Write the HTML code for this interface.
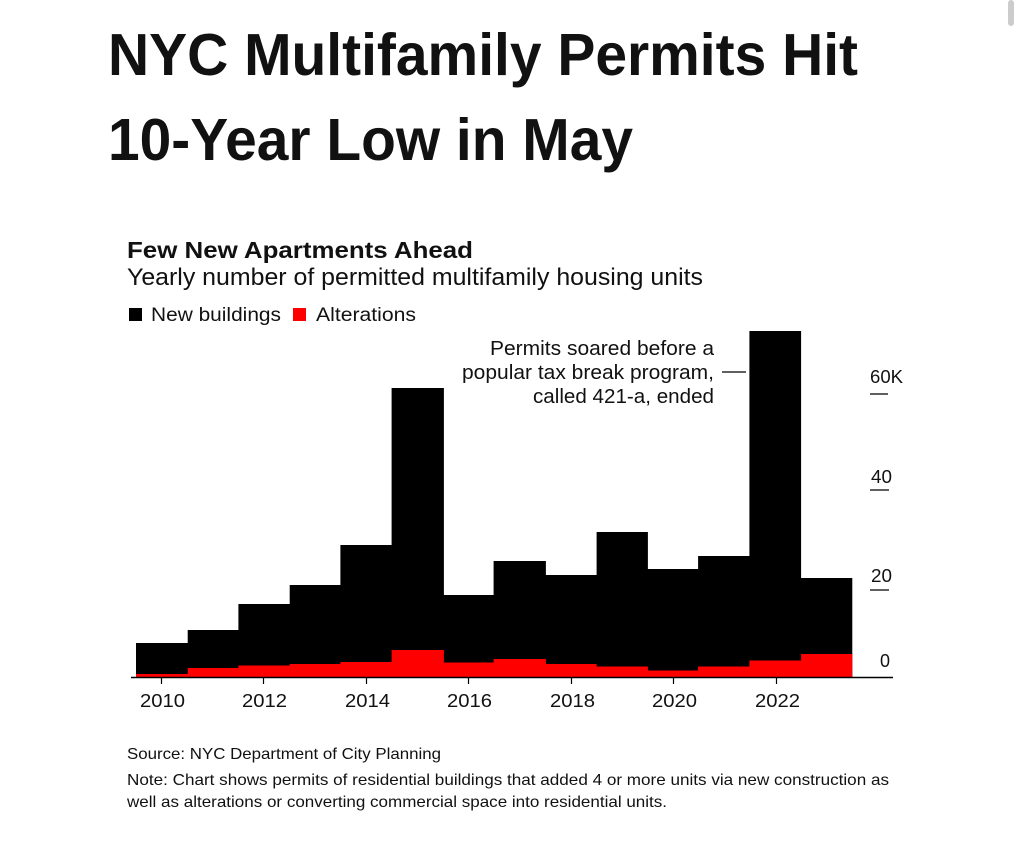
<!DOCTYPE html>
<html><head><meta charset="utf-8"><style>
html,body{margin:0;padding:0;background:#fff;width:1024px;height:854px;overflow:hidden}
svg{display:block}
text{font-family:"Liberation Sans",Arial,sans-serif;fill:#111}
</style></head><body>
<svg width="1024" height="854" viewBox="0 0 1024 854" xmlns="http://www.w3.org/2000/svg">
<rect x="1008" y="0" width="6" height="26" rx="3" fill="#ccc"/>
<text x="108" y="75" font-size="59" font-weight="bold" textLength="750" lengthAdjust="spacingAndGlyphs" fill="#000">NYC Multifamily Permits Hit</text>
<text x="108" y="160" font-size="59" font-weight="bold" textLength="525" lengthAdjust="spacingAndGlyphs" fill="#000">10-Year Low in May</text>
<text x="127" y="258" font-size="23" font-weight="bold" textLength="346" lengthAdjust="spacingAndGlyphs">Few New Apartments Ahead</text>
<text x="127" y="285" font-size="24" textLength="576" lengthAdjust="spacingAndGlyphs" fill="#222">Yearly number of permitted multifamily housing units</text>
<rect x="129" y="308" width="13" height="13" fill="#000"/>
<text x="151" y="321" font-size="19" textLength="130" lengthAdjust="spacingAndGlyphs" fill="#222">New buildings</text>
<rect x="293" y="308" width="13" height="13" fill="#f00"/>
<text x="316" y="321" font-size="19" textLength="100" lengthAdjust="spacingAndGlyphs" fill="#222">Alterations</text>
<path fill="#000" d="M136,677 V643 H187.7 V630 H238.4 V604 H289.7 V585 H340.4 V545 H391.6 V388 H443.9 V595 H493.6 V561 H545.9 V575 H596.6 V532 H647.9 V569 H698.1 V556 H749.4 V331 H801.1 V578 H852.3 V677 Z"/>
<path fill="#f00" d="M136,677 V674 H187.7 V668 H238.4 V665.5 H289.7 V664 H340.4 V662 H391.6 V650 H443.9 V662.5 H493.6 V659 H545.9 V664 H596.6 V666.5 H647.9 V670.5 H698.1 V666.5 H749.4 V660.5 H801.1 V654 H852.3 V677 Z"/>
<line x1="131" y1="677.5" x2="893" y2="677.5" stroke="#000" stroke-width="1.5"/>
<g stroke="#000" stroke-width="1.2">
<line x1="161.5" y1="677" x2="161.5" y2="684"/><line x1="263.5" y1="677" x2="263.5" y2="684"/>
<line x1="366.5" y1="677" x2="366.5" y2="684"/><line x1="468.5" y1="677" x2="468.5" y2="684"/>
<line x1="571.5" y1="677" x2="571.5" y2="684"/><line x1="673.5" y1="677" x2="673.5" y2="684"/>
<line x1="776.5" y1="677" x2="776.5" y2="684"/>
<line x1="870" y1="394" x2="888" y2="394"/><line x1="870" y1="490" x2="889" y2="490"/>
<line x1="870" y1="590" x2="889" y2="590"/>
<line x1="722" y1="372" x2="746" y2="372"/>
</g>
<g font-size="18" fill="#222">
<text x="140" y="707" textLength="45" lengthAdjust="spacingAndGlyphs">2010</text>
<text x="242" y="707" textLength="45" lengthAdjust="spacingAndGlyphs">2012</text>
<text x="345" y="707" textLength="45" lengthAdjust="spacingAndGlyphs">2014</text>
<text x="447" y="707" textLength="45" lengthAdjust="spacingAndGlyphs">2016</text>
<text x="550" y="707" textLength="45" lengthAdjust="spacingAndGlyphs">2018</text>
<text x="652" y="707" textLength="45" lengthAdjust="spacingAndGlyphs">2020</text>
<text x="755" y="707" textLength="45" lengthAdjust="spacingAndGlyphs">2022</text>
</g>
<g font-size="18" fill="#222">
<text x="870" y="383" textLength="33" lengthAdjust="spacingAndGlyphs">60K</text>
<text x="871" y="483" textLength="21" lengthAdjust="spacingAndGlyphs">40</text>
<text x="871" y="582" textLength="21" lengthAdjust="spacingAndGlyphs">20</text>
<text x="880" y="667">0</text>
</g>
<g font-size="20" fill="#222">
<text x="490" y="355" textLength="224" lengthAdjust="spacingAndGlyphs">Permits soared before a</text>
<text x="462" y="379" textLength="252" lengthAdjust="spacingAndGlyphs">popular tax break program,</text>
<text x="533" y="403" textLength="181" lengthAdjust="spacingAndGlyphs">called 421-a, ended</text>
</g>
<text x="127" y="759" font-size="16" textLength="314" lengthAdjust="spacingAndGlyphs" fill="#222">Source: NYC Department of City Planning</text>
<text x="127" y="785" font-size="16" textLength="762" lengthAdjust="spacingAndGlyphs" fill="#222">Note: Chart shows permits of residential buildings that added 4 or more units via new construction as</text>
<text x="127" y="807" font-size="16" textLength="540" lengthAdjust="spacingAndGlyphs" fill="#222">well as alterations or converting commercial space into residential units.</text>
</svg>
</body></html>
